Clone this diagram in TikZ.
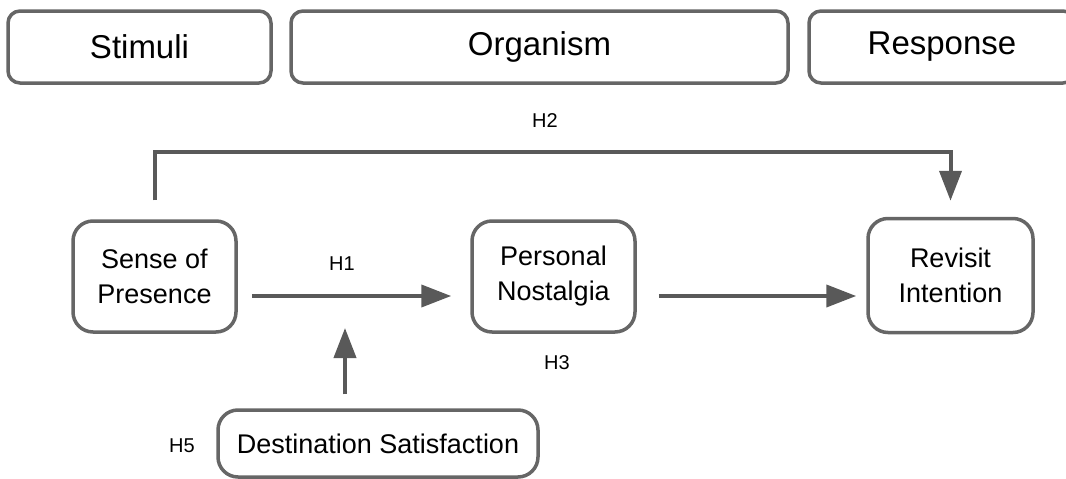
\documentclass[tikz,border=0pt]{standalone}
\usepackage{fontspec}
\setmainfont{Liberation Sans}
\usetikzlibrary{arrows.meta,calc}
\definecolor{edge}{HTML}{666666}
\definecolor{arrowc}{HTML}{595959}
\begin{document}
\begin{tikzpicture}[x=1pt,y=-1pt,
  headbox/.style={draw=edge,line width=3.5pt,rounded corners=12pt,fill=white,
    minimum height=72pt,inner sep=0pt,font=\fontsize{33}{40}\selectfont},
  varbox/.style={draw=edge,line width=3.5pt,rounded corners=20pt,fill=white,
    inner sep=0pt,align=center,font=\fontsize{27}{35}\selectfont},
  arr/.style={draw=arrowc,line width=4pt,-{Triangle[length=30pt,width=22pt]}},
  hlab/.style={font=\fontsize{20}{24}\selectfont,inner sep=0pt}]
\useasboundingbox (0,0) rectangle (1066,479);
\clip (0,0) rectangle (1066,479);
% header boxes
\node[headbox,minimum width=263pt] (stim) at (139.5,47) {Stimuli};
\node[headbox,minimum width=497pt] (org) at (539.5,47) {Organism};
\node[headbox,minimum width=266pt] (resp) at (942,47) {Response};
% variables
\node[varbox,minimum width=163pt,minimum height=111pt] (sp) at (154.5,276.5) {Sense of\\Presence};
\node[varbox,minimum width=163pt,minimum height=111pt] (pn) at (553.5,276.5) {Personal\\Nostalgia};
\node[varbox,minimum width=165pt,minimum height=114pt] (ri) at (950.5,275.5) {Revisit\\Intention};
\node[varbox,minimum width=320pt,minimum height=67pt] (ds) at (378,443.5) {Destination Satisfaction};
% helper coordinates
\coordinate (top) at (0,152);
\coordinate (mod) at (345,328);
% connectors
\draw[arr] ([yshift=19pt]sp.north) -- (sp.north |- top) -| ([yshift=16pt]ri.north);
\draw[arr] ([shift={(14pt,-19.5pt)}]sp.east) -- ([shift={(-19pt,-19.5pt)}]pn.west);
\draw[arr] ([shift={(22pt,-19.5pt)}]pn.east) -- ([shift={(-10pt,-20.5pt)}]ri.west);
\draw[arr] ($(mod |- ds.north)+(0,-14)$) -- (mod);
% labels
\node[hlab] (h2) at (545,121) {H2};
\node[hlab] (h1) at (342,264) {H1};
\node[hlab] (h3) at (557,363) {H3};
\node[hlab] (h5) at (182,446) {H5};
\end{tikzpicture}
\end{document}
